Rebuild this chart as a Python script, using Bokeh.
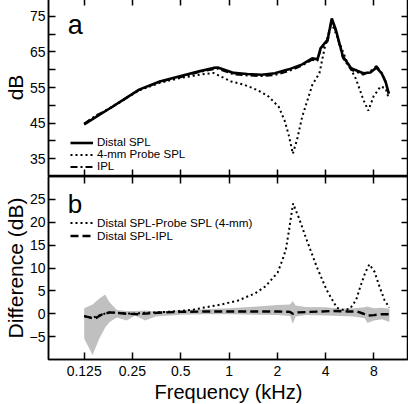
from bokeh.plotting import figure
from bokeh.models import LogAxis, LinearAxis, FixedTicker, Legend, LegendItem, Label
from bokeh.layouts import column
from bokeh.embed import file_html
from bokeh.resources import INLINE

FONT = "Liberation Sans"

# ---------------- data ----------------
xticks = [0.125, 0.25, 0.5, 1, 2, 4, 8]
xtick_labels = ["0.125", "0.25", "0.5", "1", "2", "4", "8"]

# panel a
freq_a = [0.125, 0.15, 0.18, 0.22, 0.275, 0.37, 0.5, 0.66, 0.8, 0.85, 1.07, 1.3, 1.6,
          1.93, 2.36, 2.86, 3.3, 3.56, 3.72, 4.12, 4.37, 4.63, 5.13, 5.77, 6.87, 7.61,
          8.31, 8.94, 9.48, 9.91]
distal_spl = [44.6, 46.9, 49.1, 51.6, 54.4, 56.7, 58.2, 59.6, 60.5, 60.6, 59.1, 58.8, 58.6,
              59.0, 60.1, 61.5, 63.2, 62.9, 66.0, 68.5, 74.4, 71.3, 63.7, 60.4, 59.0, 59.2,
              60.6, 59.0, 56.5, 53.3]
ipl = [44.9, 47.3, 49.0, 51.5, 54.3, 56.6, 57.9, 59.4, 60.1, 60.3, 58.7, 58.4, 58.2,
       58.5, 59.6, 61.2, 62.8, 62.5, 65.6, 68.0, 74.0, 70.9, 63.3, 60.0, 58.6, 59.6,
       61.0, 59.2, 56.6, 53.3]
freq_p = [0.125, 0.15, 0.18, 0.22, 0.275, 0.37, 0.5, 0.66, 0.8, 1.03, 1.24, 1.5, 1.76,
          2.04, 2.23, 2.36, 2.5, 2.66, 2.86, 3.31, 3.66, 4.0, 4.37, 4.63, 5.36, 6.2,
          6.87, 7.39, 7.96, 8.81, 9.48, 9.91]
probe_spl = [44.8, 47.0, 49.2, 51.6, 54.2, 56.3, 57.7, 58.6, 59.1, 56.7, 55.8, 54.3, 52.5,
             49.6, 45.5, 41.5, 36.4, 40.5, 46.8, 55.8, 59.0, 67.4, 73.0, 70.2, 62.9, 57.3,
             51.6, 48.5, 52.5, 55.3, 54.7, 51.9]

# panel b
freq_d1 = [0.125, 0.14, 0.16, 0.18, 0.2, 0.25, 0.3, 0.4, 0.5, 0.6, 0.7, 0.89, 1.14, 1.46,
           1.69, 2.01, 2.16, 2.26, 2.36, 2.43, 2.51, 2.58, 2.73, 3.03, 3.51, 4.06, 4.70,
           5.2, 5.68, 6.2, 6.58, 7.07, 7.50, 8.07, 8.68, 9.34, 9.99]
diff_probe = [-0.5, -0.9, -0.2, 0.3, 0.2, 0.0, 0.2, 0.4, 0.6, 0.9, 1.35, 2.0, 2.9, 4.5,
              6.0, 9.0, 11.9, 14.0, 18.0, 21.0, 24.1, 23.0, 20.9, 16.4, 10.4, 5.2, 1.3,
              0.8, 1.1, 3.0, 5.9, 9.0, 10.8, 9.2, 5.9, 2.9, 1.35]
freq_d2 = [0.125, 0.135, 0.145, 0.16, 0.18, 0.2, 0.23, 0.27, 0.32, 0.4, 0.5, 0.7, 1.0,
           1.5, 2.0, 2.4, 2.5, 2.7, 3.2, 3.8, 4.5, 5.5, 6.3, 6.9, 7.3, 8.0, 9.0, 10.0]
diff_ipl = [-0.5, -0.8, -1.1, -0.2, 0.3, 0.2, 0.0, -0.1, 0.1, 0.3, 0.4, 0.5, 0.5,
            0.5, 0.5, 0.4, 0.0, 0.3, 0.4, 0.5, 0.6, 0.5, 0.5, 0.0, -0.4, -0.3, -0.1, -0.1]
freq_band = [0.125, 0.141, 0.155, 0.169, 0.18, 0.2, 0.23, 0.26, 0.3, 0.35, 0.5, 0.7, 1.0,
             1.5, 2.0, 2.4, 2.5, 2.6, 3.0, 4.0, 5.0, 6.0, 7.0, 7.3, 8.0, 9.0, 10.0]
band_upper = [1.2, 2.0, 3.3, 4.2, 2.5, 0.8, 0.6, 0.6, 0.7, 0.5, 0.8, 1.0, 1.2,
              1.6, 1.9, 2.0, 2.8, 1.8, 1.5, 1.4, 1.1, 1.2, 1.4, 1.6, 1.2, 1.3, 1.1]
band_lower = [-5.4, -9.0, -5.5, -3.0, -1.8, -0.8, -1.5, -0.4, -1.5, -0.6, -0.2, -0.1, -0.1,
              -0.2, -0.3, -0.5, -2.2, -0.6, -0.3, -0.4, -0.5, -0.6, -1.0, -2.0, -1.5, -1.2, -1.8]

top_y_labeled = [35, 45, 55, 65, 75]
top_y_minor = [40, 50, 60, 70]
bot_y_ticks = [-5, 0, 5, 10, 15, 20, 25]

XR = (0.0749, 13.15)


def base_axis(ax, ticks, minor=None, labels=True, size="14px"):
    ax.ticker = FixedTicker(ticks=ticks, minor_ticks=minor or [])
    ax.major_tick_in = 7
    ax.major_tick_out = 0
    ax.minor_tick_in = 7 if minor else 0
    ax.minor_tick_out = 0
    ax.axis_line_width = 1.5
    ax.major_tick_line_width = 1.5
    ax.minor_tick_line_width = 1.5
    ax.axis_line_color = "black"
    ax.major_tick_line_color = "black"
    ax.minor_tick_line_color = "black"
    if labels:
        ax.major_label_text_font = FONT
        ax.major_label_text_font_size = size
        ax.major_label_text_color = "black"
    else:
        ax.major_label_text_font_size = "0px"
        ax.major_label_text_color = None
        ax.major_label_standoff = 0


def make_fig(height, yr, bottom_border):
    p = figure(width=408, height=height, x_axis_type="log", x_range=XR, y_range=yr,
               output_backend="svg", toolbar_location=None,
               min_border_left=43, min_border_right=0, min_border_top=0,
               min_border_bottom=bottom_border)
    p.grid.visible = False
    p.outline_line_color = "black"
    p.outline_line_width = 1.5
    p.background_fill_color = "white"
    p.border_fill_color = "white"
    return p


def style_label(ax, text, size):
    ax.axis_label = text
    ax.axis_label_text_font = FONT
    ax.axis_label_text_font_size = size
    ax.axis_label_text_font_style = "normal"
    ax.axis_label_text_color = "black"


# ---------------- panel a ----------------
p1 = make_fig(178, (30, 80), 0)
xa = p1.below[0]
base_axis(xa, xticks, labels=False)
ya = p1.left[0]
base_axis(ya, top_y_labeled, minor=top_y_minor)
ya.major_label_standoff = 3
style_label(ya, "dB", "21px")
ya.axis_label_standoff = 0
top_ax = LogAxis()
base_axis(top_ax, xticks, labels=False)
p1.add_layout(top_ax, "above")
right_ax = LinearAxis()
base_axis(right_ax, top_y_labeled, minor=top_y_minor, labels=False)
p1.add_layout(right_ax, "right")

r_d = p1.line(freq_a, distal_spl, line_color="black", line_width=2.6)
r_p = p1.line(freq_p, probe_spl, line_color="black", line_width=2, line_dash="2 3")
r_i = p1.line(freq_a, ipl, line_color="black", line_width=2, line_dash="7 3 2 3")

leg1 = Legend(items=[LegendItem(label="Distal SPL", renderers=[r_d]),
                     LegendItem(label="4-mm Probe SPL", renderers=[r_p]),
                     LegendItem(label="IPL", renderers=[r_i])],
              location=(22, 4), padding=0, spacing=-2, margin=0,
              glyph_width=23, glyph_height=11, label_height=11, label_standoff=4,
              label_text_font=FONT, label_text_font_size="11.5px",
              label_text_color="black",
              border_line_color=None, background_fill_alpha=0)
p1.add_layout(leg1)
p1.add_layout(Label(x=0.0988, y=72.6, text="a", text_font=FONT, text_font_size="27px",
                    text_color="black", text_baseline="alphabetic"))

# ---------------- panel b ----------------
p2 = make_fig(231, (-10, 30), 48)
xb = p2.below[0]
base_axis(xb, xticks)
xb.major_label_overrides = {t: l for t, l in zip(xticks, xtick_labels)}
xb.major_label_standoff = 6
style_label(xb, "Frequency (kHz)", "20px")
xb.axis_label_standoff = 2
yb = p2.left[0]
base_axis(yb, bot_y_ticks)
yb.major_label_standoff = 3
style_label(yb, "Difference (dB)", "21px")
yb.axis_label_standoff = 0
top_b = LogAxis()
base_axis(top_b, xticks, labels=False)
p2.add_layout(top_b, "above")
right_b = LinearAxis()
base_axis(right_b, bot_y_ticks, labels=False)
p2.add_layout(right_b, "right")

p2.varea(x=freq_band, y1=band_lower, y2=band_upper, fill_color="#c0c0c0")
r_d2 = p2.line(freq_d2, diff_ipl, line_color="black", line_width=2.4, line_dash="8 4")
r_d1 = p2.line(freq_d1, diff_probe, line_color="black", line_width=2, line_dash="2 3")

leg2 = Legend(items=[LegendItem(label="Distal SPL-Probe SPL (4-mm)", renderers=[r_d1]),
                     LegendItem(label="Distal SPL-IPL", renderers=[r_d2])],
              location=(22, 117), padding=0, spacing=-2, margin=0,
              glyph_width=23, glyph_height=11, label_height=11, label_standoff=4,
              label_text_font=FONT, label_text_font_size="11.7px",
              label_text_color="black",
              border_line_color=None, background_fill_alpha=0)
p2.add_layout(leg2)
p2.add_layout(Label(x=0.0988, y=23.9, text="b", text_font=FONT, text_font_size="26px",
                    text_color="black", text_baseline="alphabetic"))

layout = column(p1, p2, spacing=0, margin=(-2, 0, 0, 0))

open("out.html", "w").write(file_html(layout, INLINE))
